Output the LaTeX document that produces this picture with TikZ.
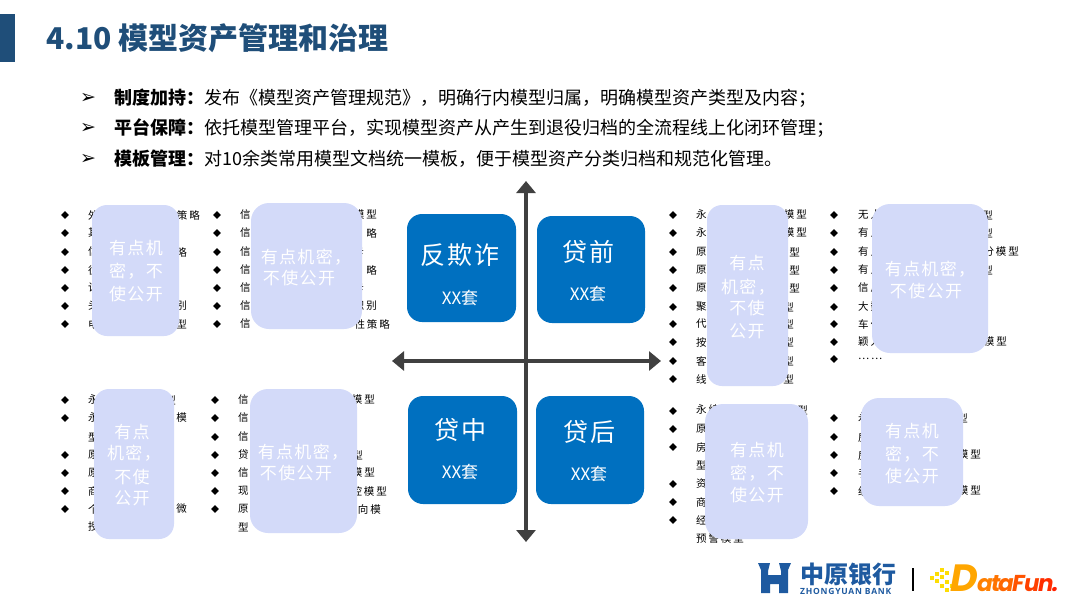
\documentclass[tikz,border=0pt]{standalone}
\usepackage{fontspec}
\usetikzlibrary{arrows.meta,shapes.geometric}
\setmainfont{Noto Sans CJK SC}
\newfontfamily\listfont[LetterSpace=18]{Noto Sans CJK SC}
\newfontfamily\maskfont[LetterSpace=8]{Noto Sans CJK SC}
\newfontfamily\boxfont[LetterSpace=8]{Noto Sans CJK SC}
\newfontfamily\symfont{DejaVu Sans}
\newfontfamily\bankfont[LetterSpace=9]{Open Sans}
\newfontfamily\funfont{Poppins}
\definecolor{titleblue}{HTML}{1F4E79}
\definecolor{axisgray}{HTML}{404040}
\definecolor{quadblue}{HTML}{0070C0}
\definecolor{maskblue}{HTML}{D3DAF9}
\definecolor{bankblue}{HTML}{1E5AA0}
\tikzset{
  lineitem/.style={inner sep=0pt, anchor=west, font=\fontsize{18}{18}\selectfont},
  tickmark/.style={inner sep=0pt, font=\symfont\fontsize{19}{19}\selectfont},
  itemleft/.style={inner sep=0pt, anchor=west, font=\listfont\fontsize{10.5}{12}\selectfont},
  itemright/.style={inner sep=0pt, anchor=east, font=\listfont\fontsize{10.5}{12}\selectfont},
  dotmark/.style={diamond, fill=black, inner sep=0pt, minimum width=8pt, minimum height=8pt},
  quadbox/.style={fill=quadblue, rounded corners=15pt},
  quadname/.style={text=white, inner sep=0pt, font=\boxfont\fontsize{25}{25}\selectfont},
  quadcount/.style={text=white, inner sep=0pt, font=\fontsize{17}{17}\selectfont},
  maskbox/.style={fill=maskblue, rounded corners=#1},
  masktext/.style={text=white, inner sep=0pt, font=\maskfont\fontsize{17}{17}\selectfont},
  axisline/.style={draw=axisgray, line width=4pt, {Triangle[length=12pt,width=19pt]}-{Triangle[length=12pt,width=19pt]}},
  funletter/.style={inner sep=0pt, anchor=base west, font=\funfont\bfseries\itshape\fontsize{23}{23}\selectfont},
}
\begin{document}
\begin{tikzpicture}[x=1pt,y=-1pt]
  \useasboundingbox (0,0) rectangle (1080,608);
  \fill[titleblue] (0,14) rectangle (15,62);
  \node[inner sep=0pt, anchor=west, text=titleblue, font=\bfseries\fontsize{30}{30}\selectfont] at (46,38) (title) {4.10 模型资产管理和治理};

  \node[tickmark] at (88,98) (tick1) {➢};
  \node[tickmark] at (88,128) (tick2) {➢};
  \node[tickmark] at (88,159) (tick3) {➢};
  \node[lineitem] at (114,98) (line1) {\textbf{制度加持：}发布《模型资产管理规范》，明确行内模型归属，明确模型资产类型及内容；};
  \node[lineitem] at (114,128) (line2) {\textbf{平台保障：}依托模型管理平台，实现模型资产从产生到退役归档的全流程线上化闭环管理；};
  \node[lineitem] at (114,159) (line3) {\textbf{模板管理：}对10余类常用模型文档统一模板，便于模型资产分类归档和规范化管理。};

  \foreach \y/\s in {215/外,233/其,252/信,270/往,288/计,306/头,324/电}
    \node[itemleft] at (88,\y) (aleft\y) {\s};
  \foreach \y/\x/\s in {215/200/策略,252/187/略,306/187/别,324/187/型}
    \node[itemright] at (\x,\y) (aright\y) {\s};
  \foreach \y in {215,233,252,270,288,306,324} {
    \node[dotmark] at (65,\y) (adot\y) {};
    \node[dotmark] at (217,\y) (bdot\y) {};
    \node[itemleft] at (240,\y) (bleft\y) {信};
  }
  \foreach \y/\x/\s in {215/377/模型,233/377/略,252/364/卡,270/377/略,288/364/卡,306/377/识别,324/390/性策略}
    \node[itemright] at (\x,\y) (bright\y) {\s};

  \foreach \y/\s in {400/永,418/永,437/型,455/原,473/原,491/商,509/个,527/授}
    \node[itemleft] at (88,\y) (cleft\y) {\s};
  \foreach \y/\x/\s in {400/176/型,418/187/模,509/187/微}
    \node[itemright] at (\x,\y) (cright\y) {\s};
  \foreach \y in {400,418,455,473,491,509}
    \node[dotmark] at (65,\y) (cdot\y) {};
  \foreach \y/\s in {400/信,418/信,437/信,455/贷,473/信,491/现,509/原,527/型}
    \node[itemleft] at (238,\y) (dleft\y) {\s};
  \foreach \y in {400,418,437,455,473,491,509}
    \node[dotmark] at (215,\y) (ddot\y) {};
  \foreach \y/\x/\s in {400/375/模型,455/363/型,473/375/模型,491/387/控模型,509/381/向模}
    \node[itemright] at (\x,\y) (dright\y) {\s};

  \foreach \y/\s in {215/永,233/永,252/原,270/原,288/原,307/聚,324/代,342/按,361/客,379/线}
    \node[itemleft] at (696,\y) (eleft\y) {\s};
  \foreach \y in {215,233,252,270,288,307,324,342,361,379}
    \node[dotmark] at (673,\y) (edot\y) {};
  \foreach \y/\x/\s in {215/807/模型,233/807/模型,252/800/型,270/800/型,288/800/型,307/794/型,324/794/型,342/794/型,361/794/型,379/794/型}
    \node[itemright] at (\x,\y) (eright\y) {\s};
  \foreach \y/\s in {215/无人,233/有人,252/有人,270/有人,288/信用,307/大数,324/车位,342/颖人,359/……}
    \node[itemleft] at (858,\y) (fleft\y) {\s};
  \foreach \y in {215,233,252,270,288,307,324,342,359}
    \node[dotmark] at (834,\y) (fdot\y) {};
  \foreach \y/\x/\s in {215/993/型,233/993/型,252/1019/分模型,270/993/型,342/1007/模型}
    \node[itemright] at (\x,\y) (fright\y) {\s};

  \foreach \y/\s in {410/永续,429/原,447/房,465/型,484/资,502/商,520/经,538/预警模型}
    \node[itemleft] at (696,\y) (gleft\y) {\s};
  \foreach \y in {411,429,447,484,502,520}
    \node[dotmark] at (673,\y) (gdot\y) {};
  \node[itemright] at (808,410) (gright) {型};
  \foreach \y/\s in {418/永,437/房,455/房,473/手,491/经}
    \node[itemleft] at (858,\y) (hleft\y) {\s};
  \foreach \y in {418,437,455,473,491}
    \node[dotmark] at (834,\y) (hdot\y) {};
  \foreach \y/\x/\s in {418/968/型,455/981/模型,491/981/模型}
    \node[itemright] at (\x,\y) (hright\y) {\s};

  \fill[maskbox=15pt] (92,205) rectangle (179,336);
  \fill[maskbox=18pt] (251,203) rectangle (362,329);
  \fill[maskbox=15pt] (94,389) rectangle (174,539);
  \fill[maskbox=18pt] (250,389) rectangle (357,533);
  \fill[maskbox=15pt] (707,205) rectangle (788,386);
  \fill[maskbox=18pt] (872,204) rectangle (988,353);
  \fill[maskbox=18pt] (705,404) rectangle (808,539);
  \fill[maskbox=18pt] (861,398) rectangle (963,506);

  \foreach \n/\x/\y/\s in {a1/136/248/有点机,a2/136/271/密，不,a3/136/294/使公开,
      b1/306/257/有点机密，,b2/299/278/不使公开,
      c1/132/432/有点,c2/134/453/机密，,c3/132/477/不使,c4/132/498/公开,
      d1/303/452/有点机密，,d2/296/473/不使公开,
      e1/747/263/有点,e2/748/287/机密，,e3/747/308/不使,e4/747/331/公开,
      f1/930/269/有点机密，,f2/926/291/不使公开,
      g1/757/450/有点机,g2/757/473/密，不,g3/757/495/使公开,
      h1/912/431/有点机,h2/912/454/密，不,h3/912/476/使公开}
    \node[masktext] at (\x,\y) (mask\n) {\s};

  \coordinate (axistop) at (526,181);
  \coordinate (axisbottom) at (526,542);
  \coordinate (axisleft) at (392,361);
  \coordinate (axisright) at (661,361);
  \draw[axisline] (axistop) -- (axisbottom);
  \draw[axisline] (axisleft) -- (axisright);

  \fill[quadbox] (407,214) rectangle (516,322);
  \fill[quadbox] (537,216) rectangle (645,323);
  \fill[quadbox] (408,396) rectangle (517,504);
  \fill[quadbox] (536,396) rectangle (644,504);
  \foreach \n/\x/\y/\ya/\s in {fan/460/255/298/反欺诈,qian/588/252/294/贷前,zhong/460/430/472/贷中,hou/589/432/474/贷后} {
    \node[quadname] at (\x,\y) (name\n) {\s};
    \node[quadcount] at (\x,\ya) (count\n) {XX套};
  }

  \fill[bankblue] (758,563) -- (770,563) -- (768,571) -- (768,575) -- (781,575) -- (781,571) -- (779,563) -- (791,563) -- (788,570) -- (788,593) -- (779,593) -- (779,584) -- (770,584) -- (770,593) -- (761,593) -- (761,570) -- cycle;
  \node[inner sep=0pt, anchor=west, text=bankblue, font=\bfseries\fontsize{24}{24}\selectfont] at (800,574) (bankname) {中原银行};
  \node[inner sep=0pt, anchor=west, text=bankblue, font=\bankfont\bfseries\fontsize{8.5}{9}\selectfont] at (800,591) (bankeng) {ZHONGYUAN BANK};
  \coordinate (bartop) at (913,568);
  \coordinate (barbottom) at (913,591);
  \draw[black, line width=1.5pt] (bartop) -- (barbottom);

  \foreach \x/\y in {930/576,935/572,940/568,935/579,940/575,945/571,940/584,945/580,945/588,950/584}
    \fill[yellow!80!orange] (\x,\y) rectangle ++(3.5,3.5);
  \node[funletter, text=orange!70!yellow, font=\funfont\bfseries\itshape\fontsize{38}{38}\selectfont] at (950,591) (funD) {D};
  \node[funletter, text=orange] at (977,591) (funA) {a};
  \node[funletter, text=orange!90!red] at (991,591) (funT) {t};
  \node[funletter, text=orange!80!red] at (998,591) (funB) {a};
  \node[funletter, text=orange!65!red] at (1012,591) (funF) {F};
  \node[funletter, text=orange!50!red] at (1024,591) (funU) {u};
  \node[funletter, text=orange!35!red] at (1038,591) (funN) {n};
  \node[funletter, text=orange!25!red] at (1052,591) (funP) {.};
\end{tikzpicture}
\end{document}
